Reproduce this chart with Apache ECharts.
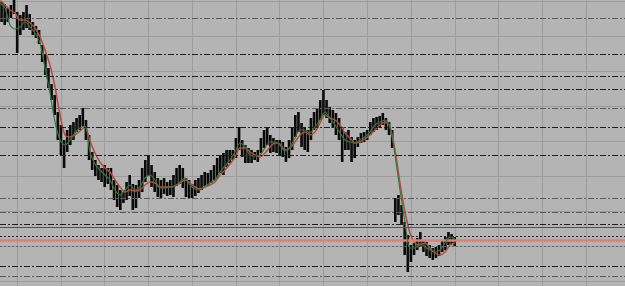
<!DOCTYPE html>
<html>
<head>
    <meta charset="utf-8">
    <script src="https://cdn.jsdelivr.net/npm/echarts@6/dist/echarts.min.js"></script>
    <style>
        html, body { margin: 0; padding: 0; background: #b4b4b4; }
        #main { width: 625px; height: 286px; }
    </style>
    <title>Price chart</title>
</head>

<body>
    <div id="main"></div>

    <script type="text/javascript">
        // price bars, one per slot (high / low)
        var barHigh = [279, 277, 273, 276, 281, 269, 266, 269, 276, 267, 259, 255, 251, 236, 226, 213, 197, 186, 169, 156,
            141, 151, 156, 159, 163, 166, 173, 161, 146, 129, 121, 116, 113, 116, 113, 113, 101, 96, 91, 89,
            99, 106, 97, 96, 101, 113, 121, 126, 116, 109, 103, 101, 103, 99, 101, 106, 113, 116, 113, 103,
            101, 97, 101, 103, 106, 109, 108, 111, 116, 123, 126, 128, 131, 131, 131, 143, 154, 141, 136, 133,
            131, 129, 131, 143, 151, 153, 146, 143, 141, 141, 139, 134, 141, 153, 166, 169, 158, 153, 151, 163,
            169, 173, 181, 191, 181, 174, 171, 168, 163, 154, 149, 151, 144, 141, 144, 148, 149, 151, 159, 163,
            164, 165, 168, 163, 159, 151, 83, 86, 76, 59, 46, 36, 38, 43, 49, 41, 39, 36, 33, 34,
            36, 41, 44, 49, 47, 44];
        var barLow = [259, 256, 259, 263, 267, 228, 246, 251, 253, 251, 246, 243, 237, 219, 206, 193, 181, 166, 141, 126,
            113, 129, 136, 141, 149, 151, 155, 141, 121, 111, 105, 101, 99, 94, 97, 91, 81, 74, 71, 78,
            81, 85, 71, 73, 83, 89, 99, 105, 94, 89, 84, 83, 87, 85, 86, 84, 95, 97, 93, 84,
            83, 83, 85, 88, 91, 95, 95, 98, 101, 103, 108, 106, 114, 118, 121, 123, 131, 124, 118, 118,
            118, 121, 119, 128, 133, 136, 128, 129, 128, 126, 124, 119, 123, 131, 144, 149, 134, 131, 129, 141,
            151, 153, 161, 166, 163, 158, 153, 146, 141, 119, 131, 131, 119, 123, 134, 138, 139, 141, 146, 149,
            151, 153, 156, 151, 146, 133, 59, 66, 56, 26, 9, 19, 26, 31, 34, 29, 25, 23, 21, 23,
            25, 29, 31, 36, 37, 35];

        // moving averages, one value every 5 px step
        var maSlow = [281, 276, 271, 268, 261, 261, 258, 253, 244, 231, 216, 194, 166, 146, 144, 146, 150, 154, 140, 128,
            119, 113, 109, 101, 94, 89, 91, 90, 91, 96, 99, 98, 94, 94, 94, 95, 98, 101, 98, 94,
            92, 94, 96, 99, 106, 111, 117, 124, 133, 133, 129, 126, 124, 128, 134, 138, 137, 131, 133, 139,
            146, 149, 146, 149, 158, 166, 163, 161, 156, 148, 143, 138, 139, 142, 146, 151, 156, 159, 154, 131,
            98, 69, 48, 38, 36, 38, 33, 28, 26, 29, 36, 38];
        var maFast = [278, 273, 256, 252, 254, 259, 254, 248, 238, 213, 188, 159, 141, 136, 141, 148, 153, 155, 129, 117,
            111, 106, 101, 91, 86, 91, 96, 91, 94, 103, 106, 101, 93, 93, 94, 95, 99, 103, 96, 92,
            91, 95, 98, 101, 109, 115, 121, 129, 138, 134, 126, 125, 126, 133, 139, 139, 136, 130, 134, 143,
            151, 151, 148, 154, 161, 169, 163, 156, 148, 141, 139, 138, 141, 144, 149, 156, 159, 161, 154, 126,
            91, 59, 33, 33, 38, 34, 31, 29, 31, 38, 44, 42];

        // horizontal levels
        var levelDarkDash = [227, 205, 192, 154, 126, 56.7, 15];
        var levelGreyDash = [263, 173, 82.5, 69, 5];
        var levelDarkDot = [44.7];
        var levelGreyDot = [35];
        var levelGreen = [53.7];
        var levelRed = [40.3];

        var barSlots = 200;
        var maSlots = 126;
        var gridSlots = 257;

        var barCats = [];
        for (var i = 0; i < barSlots; i++) barCats.push(i);
        var maCats = [];
        for (var i = 0; i < maSlots; i++) maCats.push(i * 5);
        var gridCats = [];
        for (var i = 0; i < gridSlots; i++) gridCats.push(i);

        var barData = barHigh.map(function (h, i) { return [i, h, barLow[i]]; });

        function levels(vals, color, type, width) {
            return vals.map(function (v) {
                return { yAxis: v, lineStyle: { color: color, type: type, width: width || 1 } };
            });
        }

        var myChart = echarts.init(document.getElementById('main'), null, { renderer: 'canvas' });

        myChart.setOption({
            animation: false,
            backgroundColor: '#b4b4b4',
            grid: [
                { left: 0, right: 0, top: 1, bottom: 5 },
                { left: 0, right: 0, top: 0, bottom: 0 }
            ],
            xAxis: [
                { type: 'category', data: barCats, gridIndex: 0, show: false },
                { type: 'category', data: maCats, gridIndex: 0, boundaryGap: false, show: false },
                {
                    type: 'category', data: gridCats, gridIndex: 1,
                    axisLine: { show: false }, axisTick: { show: false }, axisLabel: { show: false },
                    splitLine: {
                        show: true,
                        interval: function (idx) { return (idx - 7) % 18 === 0; },
                        lineStyle: { color: '#9c9c9c', width: 1 }
                    }
                }
            ],
            yAxis: [
                {
                    type: 'value', gridIndex: 0, min: 0, max: 280, interval: 35,
                    axisLine: { show: false }, axisTick: { show: false }, axisLabel: { show: false },
                    splitLine: { show: true, lineStyle: { color: '#9c9c9c', width: 1 } }
                },
                { type: 'value', gridIndex: 1, show: false, min: 0, max: 1 }
            ],
            series: [
                {
                    name: 'levels',
                    type: 'line',
                    xAxisIndex: 1,
                    yAxisIndex: 0,
                    data: [],
                    z: 1,
                    markLine: {
                        silent: true,
                        symbol: 'none',
                        label: { show: false },
                        data: [].concat(
                            levels(levelDarkDash, '#1e1e1e', [6, 2, 2, 2]),
                            levels(levelGreyDash, '#5a5a5a', [6, 2, 2, 2]),
                            levels(levelDarkDot, '#1e1e1e', [2, 2]),
                            levels(levelGreyDot, '#646464', [2, 2]),
                            levels(levelGreen, '#2e6a2e', 'solid'),
                            levels(levelRed, '#e47f6e', 'solid', 2.5)
                        )
                    }
                },
                {
                    name: 'price',
                    type: 'custom',
                    xAxisIndex: 0,
                    yAxisIndex: 0,
                    z: 3,
                    data: barData,
                    renderItem: function (params, api) {
                        var hi = api.coord([api.value(0), api.value(1)]);
                        var lo = api.coord([api.value(0), api.value(2)]);
                        var w = api.size([1, 0])[0] - 0.5;
                        return {
                            type: 'rect',
                            shape: { x: hi[0] - w / 2, y: hi[1], width: w, height: Math.max(1, lo[1] - hi[1]) },
                            style: { fill: '#0a0a0a' }
                        };
                    }
                },
                {
                    name: 'MA slow',
                    type: 'line',
                    xAxisIndex: 1,
                    yAxisIndex: 0,
                    z: 4,
                    data: maSlow,
                    smooth: 0.3,
                    symbol: 'none',
                    lineStyle: { color: '#b84a3c', width: 1.5 }
                },
                {
                    name: 'MA fast',
                    type: 'line',
                    xAxisIndex: 1,
                    yAxisIndex: 0,
                    z: 5,
                    data: maFast,
                    smooth: 0.3,
                    symbol: 'none',
                    lineStyle: { color: '#2f7a3c', width: 1.2 }
                }
            ]
        });
    </script>
</body>

</html>
